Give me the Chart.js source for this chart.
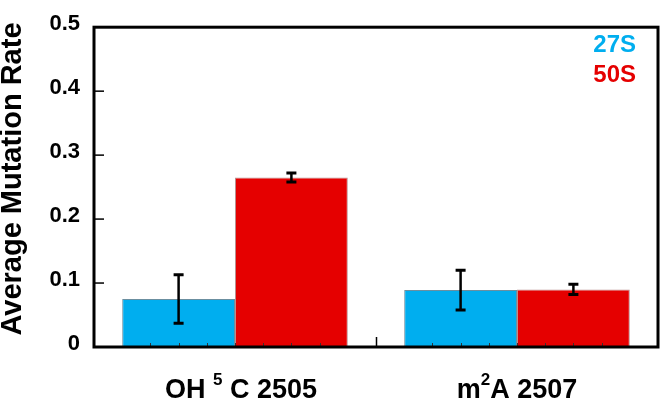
<!DOCTYPE html>
<html>
<head>
<meta charset="utf-8">
<script src="https://cdn.jsdelivr.net/npm/chart.js@4.4.0/dist/chart.umd.min.js"></script>
<style>
    html, body { margin: 0; padding: 0; background: #ffffff; }
    #wrap { width: 664px; height: 404px; position: relative; }
</style>
</head>
<body>
<div id="wrap"><canvas id="grafico01"></canvas></div>
<script>
// datos
var categories = ['OH5 C 2505', 'm2A 2507'];
// partes de cada etiqueta: [texto, superindice]
var categoryParts = [
    [['OH ', false], ['5', true], [' C 2505', false]],
    [['m', false], ['2', true], ['A 2507', false]]
];
var seriesNames = ['27S', '50S'];
var values27S = [0.075, 0.089];
var values50S = [0.265, 0.090];
var errors27S = [0.038, 0.031];
var errors50S = [0.007, 0.008];
var yTicks = [0, 0.1, 0.2, 0.3, 0.4, 0.5];

var FONT = "'Liberation Sans', Arial, sans-serif";
var BLUE = '#00AEEF';
var RED = '#E50000';

(function () {

    var errorBars = {
        id: 'errorBars',
        afterDatasetsDraw: function (chart) {
            var ctx = chart.ctx;
            var y = chart.scales.y;
            var errs = [errors27S, errors50S];
            ctx.save();
            ctx.strokeStyle = '#000';
            chart.data.datasets.forEach(function (ds, i) {
                chart.getDatasetMeta(i).data.forEach(function (bar, j) {
                    var v = ds.data[j];
                    var top = y.getPixelForValue(v + errs[i][j]);
                    var bot = y.getPixelForValue(v - errs[i][j]);
                    ctx.lineWidth = 2.5;
                    ctx.beginPath();
                    ctx.moveTo(bar.x, top);
                    ctx.lineTo(bar.x, bot);
                    ctx.stroke();
                    ctx.lineWidth = 3;
                    ctx.beginPath();
                    ctx.moveTo(bar.x - 5, top);
                    ctx.lineTo(bar.x + 5, top);
                    ctx.moveTo(bar.x - 5, bot);
                    ctx.lineTo(bar.x + 5, bot);
                    ctx.stroke();
                });
            });
            ctx.restore();
        },
        afterDraw: function (chart) {
            var ctx = chart.ctx;
            var a = chart.chartArea;
            var x = chart.scales.x;
            var y = chart.scales.y;
            ctx.save();

            // ticks del eje y hacia dentro
            ctx.strokeStyle = '#000';
            ctx.lineWidth = 1.5;
            yTicks.forEach(function (t) {
                var py = y.getPixelForValue(t);
                ctx.beginPath();
                ctx.moveTo(a.left, py);
                ctx.lineTo(a.left + 10, py);
                ctx.stroke();
            });

            // ticks del eje x
            var w = x.getPixelForValue(1) - x.getPixelForValue(0);
            categories.forEach(function (c, i) {
                var cx = x.getPixelForValue(i);
                ctx.strokeStyle = '#333';
                ctx.lineWidth = 1;
                for (var k = -3; k <= 3; k++) {
                    var px = Math.round(cx + k * w / 10) + 0.5;
                    ctx.beginPath();
                    ctx.moveTo(px, a.bottom);
                    ctx.lineTo(px, a.bottom - 4);
                    ctx.stroke();
                }
                if (i < categories.length - 1) {
                    var mx = Math.round(cx + w / 2) + 0.5;
                    ctx.strokeStyle = '#000';
                    ctx.lineWidth = 1.5;
                    ctx.beginPath();
                    ctx.moveTo(mx, a.bottom);
                    ctx.lineTo(mx, a.bottom - 10);
                    ctx.stroke();
                }
            });

            // marco
            ctx.strokeStyle = '#000';
            ctx.lineWidth = 3;
            ctx.strokeRect(a.left, a.top, a.right - a.left, a.bottom - a.top);

            // etiquetas del eje x con superindice
            var base = 'bold 27px ' + FONT;
            var sup = 'bold 17px ' + FONT;
            ctx.fillStyle = '#000';
            ctx.textBaseline = 'alphabetic';
            ctx.textAlign = 'left';
            categoryParts.forEach(function (parts, i) {
                var total = 0;
                parts.forEach(function (p) {
                    ctx.font = p[1] ? sup : base;
                    total += ctx.measureText(p[0]).width;
                });
                var px = x.getPixelForValue(i) - total / 2 + (i === 0 ? 6 : 0);
                parts.forEach(function (p) {
                    ctx.font = p[1] ? sup : base;
                    ctx.fillText(p[0], px, p[1] ? 385 : 398);
                    px += ctx.measureText(p[0]).width;
                });
            });

            // leyenda
            ctx.font = 'bold 24px ' + FONT;
            ctx.textAlign = 'right';
            ctx.fillStyle = BLUE;
            ctx.fillText(seriesNames[0], 636, 52);
            ctx.fillStyle = RED;
            ctx.fillText(seriesNames[1], 636, 82);
            ctx.restore();
        }
    };

    var ctx = document.getElementById('grafico01').getContext('2d');
    var grafico = new Chart(ctx, {
        type: 'bar',
        data: {
            labels: categories,
            datasets: [{
                label: seriesNames[0],
                data: values27S,
                backgroundColor: BLUE,
                borderColor: '#6b8fa0',
                borderWidth: 1,
                categoryPercentage: 0.8,
                barPercentage: 1.0
            }, {
                label: seriesNames[1],
                data: values50S,
                backgroundColor: RED,
                borderColor: '#b89090',
                borderWidth: 1,
                categoryPercentage: 0.8,
                barPercentage: 1.0
            }]
        },
        options: {
            responsive: true,
            maintainAspectRatio: false,
            animation: false,
            layout: {
                padding: { top: 16, right: 6, left: 0, bottom: 0 }
            },
            plugins: {
                legend: { display: false },
                tooltip: { enabled: false }
            },
            scales: {
                x: {
                    grid: { display: false },
                    border: { display: false },
                    ticks: { display: false },
                    afterFit: function (s) { s.height = 57; }
                },
                y: {
                    min: 0,
                    max: 0.5,
                    grid: { display: false, drawTicks: false },
                    border: { display: false },
                    ticks: {
                        stepSize: 0.1,
                        padding: 14,
                        labelOffset: -3,
                        color: '#000',
                        font: { family: FONT, size: 22, weight: 'bold' }
                    },
                    title: {
                        display: true,
                        text: '  Average Mutation Rate',
                        color: '#000',
                        padding: 0,
                        font: { family: FONT, size: 29, weight: 'bold', lineHeight: 0.9 }
                    },
                    afterFit: function (s) { s.width = 94; }
                }
            }
        },
        plugins: [errorBars]
    });

})();
</script>
</body>
</html>
